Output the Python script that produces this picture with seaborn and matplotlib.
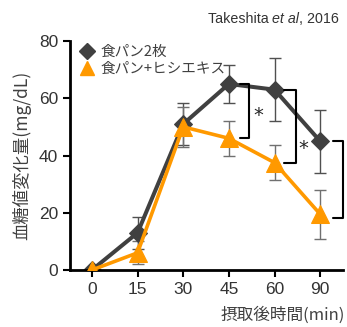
import numpy as np
import pandas as pd
import matplotlib.pyplot as plt
import seaborn as sns
from matplotlib.lines import Line2D

# data
times = ["0", "15", "30", "45", "60", "90"]
bread = [0, 13, 51, 65, 63, 45]
bread_err = [0, 5.5, 7.5, 6.5, 11, 11]
hishi = [0, 6, 50, 46, 37.5, 19.5]
hishi_err = [0, 4, 7, 6, 6, 8.5]
labels = ["食パン2枚", "食パン+ヒシエキス"]

sns.set_style("ticks")
plt.rcParams['font.family'] = ['Liberation Sans', 'Noto Sans CJK JP', 'DejaVu Sans']
jp = ['Noto Sans CJK JP', 'DejaVu Sans']

dark = "#404040"
orange = "#FF9900"

xpos = np.arange(len(times))
df = pd.DataFrame({"x": np.concatenate([xpos, xpos]),
                   "y": bread + hishi,
                   "err": bread_err + hishi_err,
                   "group": [labels[0]] * len(times) + [labels[1]] * len(times)})

fig = plt.figure(figsize=(3.47, 3.27), dpi=100)
ax = fig.add_axes([0.2017, 0.1743, 0.7868, 0.7003])

# error bars
for g, c in zip(labels, ["#505050", "#707070"]):
    d = df[df.group == g]
    ax.errorbar(d.x, d.y, yerr=d.err, fmt="none", ecolor=c, elinewidth=1,
                capsize=4.3, capthick=1, zorder=1)

sns.lineplot(data=df[df.group == labels[0]], x="x", y="y", color=dark,
             marker="D", markersize=9, markeredgecolor=dark, linewidth=2.9,
             ax=ax, zorder=2, legend=False)
sns.lineplot(data=df[df.group == labels[1]], x="x", y="y", color=orange,
             marker="^", markersize=13.5, markeredgecolor=orange, linewidth=2.6,
             ax=ax, zorder=3, legend=False)

# significance brackets
def bracket(i, top, bottom, x0=0.25, x1=0.46):
    ax.plot([i + x0, i + x1, i + x1, i + x0], [top, top, bottom, bottom],
            color="black", lw=1.5, clip_on=False, zorder=4)

bracket(3, bread[3], hishi[3], 0.24, 0.44)
bracket(4, bread[4], hishi[4], 0.2, 0.48)
bracket(5, bread[5], hishi[5] - 1.5, 0.29, 0.5)
ax.text(3.64, 54, "*", fontsize=14, ha="center", va="center", family=['DejaVu Sans'])
ax.text(4.62, 42.5, "*", fontsize=14, ha="center", va="center", family=['DejaVu Sans'])

ax.set_xlim(-0.48, 5.5)
ax.set_ylim(0, 80)
ax.set_xticks(xpos)
ax.set_xticklabels(times)
ax.set_yticks([0, 20, 40, 60, 80])
ax.tick_params(labelsize=12.5, colors="black", length=5, width=1.5, labelcolor="#333333")
for s in ["top", "right"]:
    ax.spines[s].set_visible(False)
for s in ["left", "bottom"]:
    ax.spines[s].set_linewidth(2)
    ax.spines[s].set_color("black")

ax.set_xlabel("")
ax.set_ylabel("")
fig.text(0.063, 0.526, "血糖値変化量(mg/dL)", fontsize=12.5, family=jp, color="#404040",
         rotation=90, ha="center", va="center")
fig.text(0.995, 0.035, "摂取後時間(min)", fontsize=12, family=jp, color="#404040",
         ha="right", va="center")

handles = [Line2D([], [], color=dark, marker="D", markersize=8.5, linestyle="none"),
           Line2D([], [], color=orange, marker="^", markersize=10.5, linestyle="none")]
leg = ax.legend(handles, labels, loc="upper left", bbox_to_anchor=(0.0, 1.02),
                frameon=False, handletextpad=0.3, labelspacing=0.2, borderaxespad=0.2,
                prop={"family": jp, "size": 10.5}, handlelength=1.2)
for t in leg.get_texts():
    t.set_color("#404040")

# citation, kept inside the figure
t1 = fig.text(0.598, 0.93, "Takeshita ", fontsize=10.3, color="#333333", va="baseline")
t2 = ax.annotate("et al", xy=(1, 0), xycoords=t1, fontsize=10.3, style="italic",
                 color="#333333", va="bottom", annotation_clip=False)
t3 = ax.annotate(", 2016", xy=(1, 0), xycoords=t2, fontsize=10.3, color="#333333",
                 va="bottom", annotation_clip=False)

fig.savefig("out.png", dpi=100)
